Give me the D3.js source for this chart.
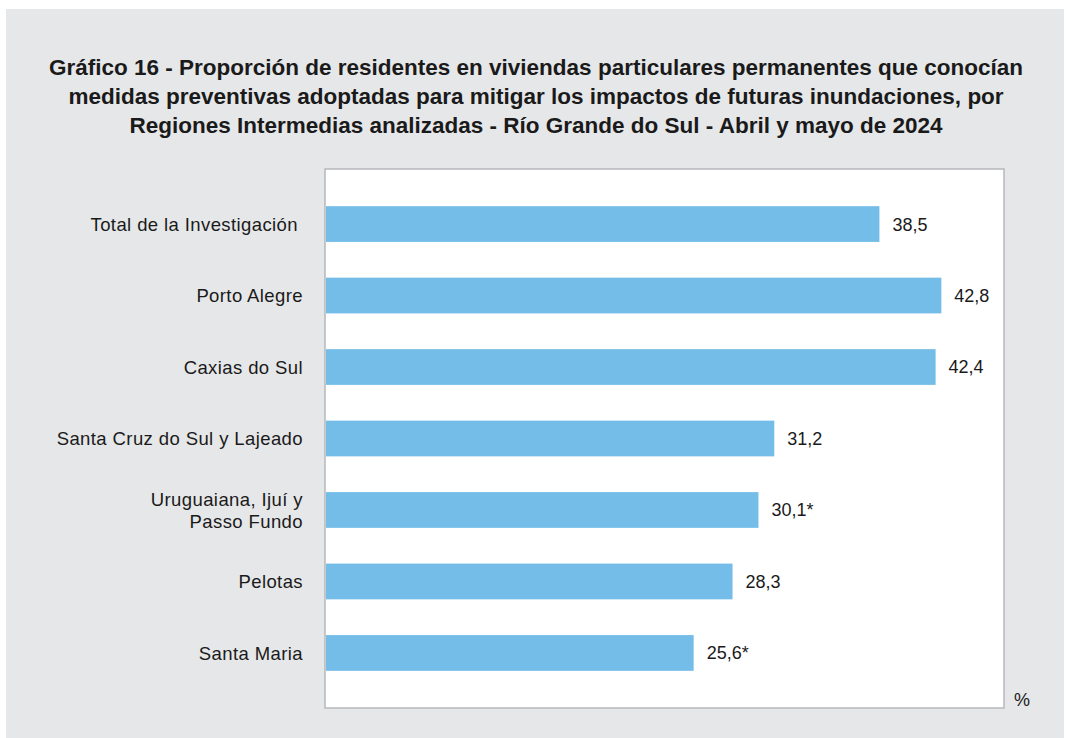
<!DOCTYPE html>
<html>
<head>
<meta charset="utf-8">
<script src="https://cdn.jsdelivr.net/npm/d3@7"></script>
<style>
  body { margin: 0; background: #ffffff; }
  text { font-family: "Liberation Sans", Arial, sans-serif; fill: #1a1a1a; }
</style>
</head>
<body>
<div id="chart"></div>
<script>
// chart size (matches the browser window)
const width = 1066;
const height = 738;
const plot = {left: 325, right: 1004, top: 169, bottom: 708};

// data
const regions = [
  "Total de la Investigación",
  "Porto Alegre",
  "Caxias do Sul",
  "Santa Cruz do Sul y Lajeado",
  "Uruguaiana, Ijuí y|Passo Fundo",
  "Pelotas",
  "Santa Maria"
];
const values = [38.5, 42.8, 42.4, 31.2, 30.1, 28.3, 25.6];
const labels = ["38,5", "42,8", "42,4", "31,2", "30,1*", "28,3", "25,6*"];
const titleLines = [
  "Gráfico 16 - Proporción de residentes en viviendas particulares permanentes que conocían",
  "medidas preventivas adoptadas para mitigar los impactos de futuras inundaciones, por",
  "Regiones Intermedias analizadas - Río Grande do Sul - Abril y mayo de 2024"
];
const unitLabel = "%";

const data = regions.map((r, i) => ({region: r, value: values[i], label: labels[i]}));

const svg = d3.select("#chart")
  .append("svg")
  .attr("width", width)
  .attr("height", height);

// grey panel behind everything
svg.append("rect")
  .attr("x", 6).attr("y", 9)
  .attr("width", 1058).attr("height", height - 9)
  .attr("fill", "#e6e7e9");

// title, three centred lines
svg.append("g")
  .selectAll("text")
  .data(titleLines)
  .enter()
  .append("text")
    .attr("x", 536)
    .attr("y", (d, i) => 74.5 + i * 29.3)
    .attr("text-anchor", "middle")
    .attr("font-size", "22.5px")
    .attr("font-weight", "bold")
    .attr("fill", "#000")
    .text(d => d);

// white plot box
svg.append("rect")
  .attr("x", plot.left).attr("y", plot.top)
  .attr("width", plot.right - plot.left)
  .attr("height", plot.bottom - plot.top)
  .attr("fill", "#ffffff")
  .attr("stroke", "#b7b8ba")
  .attr("stroke-width", 1.5);

// scales
const xScale = d3.scaleLinear()
  .domain([0, 47.15])
  .range([plot.left, plot.right]);

const yScale = d3.scaleBand()
  .domain(regions)
  .range([plot.top, plot.bottom])
  .paddingInner(0.5)
  .paddingOuter(0.52);

// bars
svg.selectAll(".bar")
  .data(data)
  .enter()
  .append("rect")
    .attr("class", "bar")
    .attr("x", xScale(0) + 1)
    .attr("y", d => yScale(d.region))
    .attr("width", d => xScale(d.value) - xScale(0) - 1)
    .attr("height", yScale.bandwidth())
    .attr("fill", "#74bde8");

// value labels at the end of each bar
svg.selectAll(".val")
  .data(data)
  .enter()
  .append("text")
    .attr("class", "val")
    .attr("x", d => xScale(d.value) + 13)
    .attr("y", d => yScale(d.region) + yScale.bandwidth() / 2)
    .attr("dy", "0.36em")
    .attr("font-size", "18px")
    .text(d => d.label);

// category labels, right aligned, "|" marks a line break
const cat = svg.selectAll(".cat")
  .data(data)
  .enter()
  .append("text")
    .attr("class", "cat")
    .attr("text-anchor", "end")
    .attr("font-size", "18.5px")
    .attr("letter-spacing", "0.4px")
    .attr("x", d => d.region.startsWith("Total") ? 298 : 303)
    .attr("y", d => yScale(d.region) + yScale.bandwidth() / 2);

cat.each(function(d) {
  const parts = d.region.split("|");
  const t = d3.select(this);
  parts.forEach((p, i) => {
    t.append("tspan")
      .attr("x", t.attr("x"))
      .attr("dy", i === 0 ? (0.36 - (parts.length - 1) * 0.6) + "em" : "1.2em")
      .text(p);
  });
});

// unit
svg.append("text")
  .attr("x", 1014)
  .attr("y", 706)
  .attr("font-size", "18px")
  .text(unitLabel);
</script>
</body>
</html>
